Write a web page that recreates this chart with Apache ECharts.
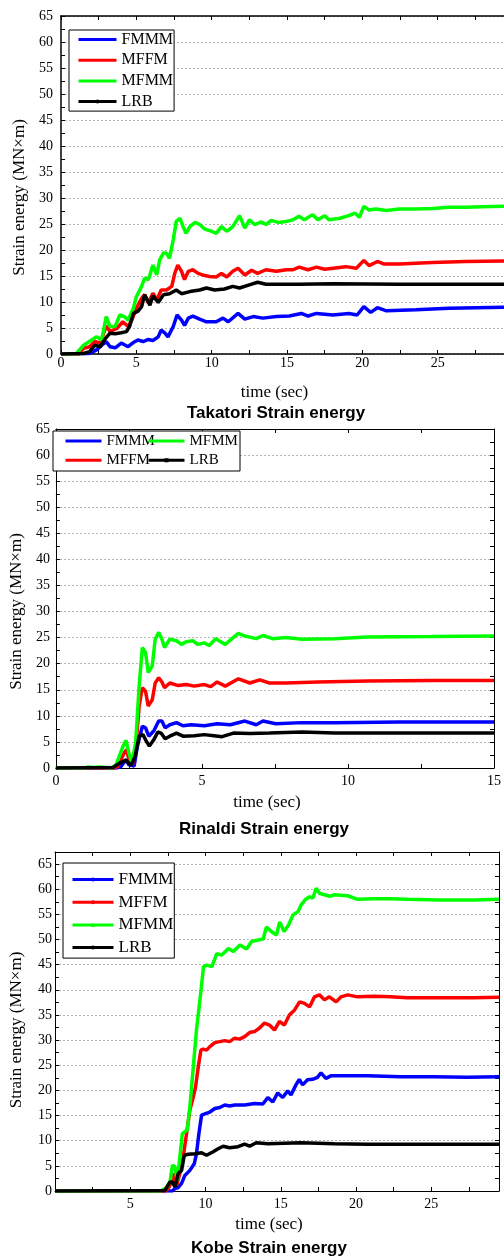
<!DOCTYPE html>
<html>
<head>
<meta charset="utf-8">
<script src="https://cdn.jsdelivr.net/npm/echarts@6/dist/echarts.min.js"></script>
<style>
  html, body { margin: 0; padding: 0; background: #fff; }
  #chart { width: 504px; height: 1257px; }
</style>
</head>
<body>
<div id="chart"></div>
<script>
// ---- data: [time (sec), strain energy (MN x m)] ----
var takatoriFMMM = [[0,0],[1.9,0.1],[2.36,0.8],[2.7,1.7],[3.0,2.4],[3.25,1.4],[3.6,1.2],[4.0,2.1],[4.45,1.4],[4.8,2.2],[5.1,2.7],[5.45,2.4],[5.8,2.8],[6.1,2.6],[6.45,3.3],[6.65,4.6],[6.9,4.0],[7.1,3.3],[7.45,5.3],[7.7,7.5],[8.0,6.5],[8.2,5.5],[8.45,6.9],[8.75,7.3],[9.2,6.7],[9.65,6.2],[10.3,6.2],[10.75,6.9],[11.1,6.2],[11.75,7.8],[12.2,6.7],[12.75,7.2],[13.4,6.9],[14.3,7.2],[15.15,7.3],[15.95,7.8],[16.4,7.3],[16.95,7.8],[18.05,7.5],[19.1,7.8],[19.65,7.5],[20.1,9.1],[20.55,8.0],[21.0,8.9],[21.6,8.3],[23.55,8.5],[25.75,8.8],[29.4,9.0]];
var takatoriMFFM = [[0,0],[1.2,0],[1.5,1.1],[1.9,1.4],[2.25,2.4],[2.6,2.1],[3.0,5.4],[3.25,4.3],[3.7,4.9],[4.1,6.2],[4.45,5.3],[4.7,6.5],[5.0,8.8],[5.35,10.7],[5.55,11.4],[5.8,9.8],[6.1,11.7],[6.35,10.4],[6.65,12.3],[7.0,12.3],[7.35,13.0],[7.55,15.5],[7.75,17.1],[8.0,15.9],[8.2,14.3],[8.45,15.9],[8.75,16.2],[9.1,15.5],[9.4,15.2],[9.85,14.9],[10.3,14.8],[10.65,15.5],[11.0,14.8],[11.4,15.9],[11.75,16.5],[12.2,15.2],[12.65,16.1],[13.05,15.5],[13.6,16.2],[14.3,15.9],[14.95,16.2],[15.4,16.2],[15.8,16.7],[16.4,16.2],[16.95,16.7],[17.5,16.3],[18.05,16.5],[18.9,16.8],[19.6,16.5],[20.1,18.0],[20.45,17.0],[21.0,17.8],[21.45,17.3],[22.45,17.3],[24.65,17.6],[26.85,17.8],[29.4,17.9]];
var takatoriMFMM = [[0,0],[1.0,0],[1.5,1.7],[2.36,3.3],[2.7,2.7],[3.0,7.2],[3.25,5.3],[3.6,5.3],[3.9,7.5],[4.2,7.2],[4.45,6.5],[4.8,8.8],[5.0,11.0],[5.35,13.0],[5.55,14.6],[5.8,14.3],[6.1,17.1],[6.35,15.2],[6.55,18.1],[6.8,19.4],[7.0,19.4],[7.2,18.4],[7.45,22.0],[7.65,25.5],[7.9,26.1],[8.1,24.5],[8.3,23.2],[8.55,24.5],[8.9,25.3],[9.2,24.9],[9.55,24.0],[10.0,23.6],[10.3,23.2],[10.65,24.5],[11.0,23.6],[11.4,24.5],[11.85,26.6],[12.2,24.2],[12.5,25.8],[12.85,24.9],[13.3,25.4],[13.6,24.9],[13.95,25.7],[14.4,25.3],[14.95,25.5],[15.4,25.8],[15.8,26.5],[16.15,25.8],[16.7,26.8],[17.05,25.8],[17.5,26.6],[17.8,25.8],[18.5,26.1],[19.1,26.6],[19.5,27.1],[19.8,26.3],[20.1,28.4],[20.45,27.7],[20.9,27.9],[21.6,27.6],[22.45,27.9],[23.55,27.9],[24.65,28.0],[25.75,28.2],[26.85,28.2],[27.95,28.3],[29.4,28.4]];
var takatoriLRB = [[0,0],[1.5,0.1],[1.9,0.45],[2.25,1.7],[2.6,1.4],[2.9,2.8],[3.25,4.0],[3.6,3.9],[4.0,4.1],[4.35,4.3],[4.55,5.3],[4.8,7.8],[5.1,8.2],[5.35,9.1],[5.55,11.4],[5.9,9.4],[6.1,11.2],[6.45,9.9],[6.8,11.4],[7.2,11.6],[7.65,12.3],[8.0,11.6],[8.55,12.0],[9.2,12.3],[9.65,12.7],[10.2,12.3],[10.85,12.5],[11.4,13.0],[11.85,12.7],[12.5,13.3],[13.05,13.8],[13.6,13.4],[15.8,13.4],[18.05,13.5],[22.45,13.4],[29.4,13.4]];

var rinaldiFMMM = [[0,0],[2.1,0],[2.23,0.3],[2.4,1.6],[2.5,0.6],[2.68,0.4],[2.79,4.2],[2.96,8.0],[3.07,7.7],[3.18,6.1],[3.35,7.1],[3.52,9.0],[3.63,9.0],[3.74,7.7],[3.9,8.3],[4.13,8.7],[4.35,8.1],[4.63,8.3],[5.08,8.1],[5.52,8.5],[5.97,8.3],[6.47,9.0],[6.86,8.3],[7.09,9.0],[7.53,8.5],[8.43,8.7],[9.54,8.7],[11.77,8.8],[15,8.8]];
var rinaldiMFFM = [[0,0],[2.0,0],[2.12,0.3],[2.34,2.9],[2.42,3.5],[2.5,1.6],[2.62,0.6],[2.76,5.4],[2.85,11.9],[2.96,15.4],[3.07,14.7],[3.16,11.9],[3.3,13.1],[3.4,16.3],[3.52,17.3],[3.63,16.5],[3.72,15.4],[3.9,16.3],[4.19,15.8],[4.46,16.0],[4.74,15.7],[5.08,16.0],[5.3,15.6],[5.52,16.5],[5.8,15.7],[6.25,17.1],[6.64,16.3],[6.98,16.9],[7.31,16.3],[7.87,16.3],[8.98,16.5],[10.66,16.7],[12.89,16.8],[15,16.8]];
var rinaldiMFMM = [[0,0],[1.0,0],[1.1,0.2],[1.3,0.1],[1.5,0.2],[1.9,0],[2.06,0.6],[2.3,4.2],[2.4,5.3],[2.5,2.9],[2.6,1.0],[2.73,4.8],[2.85,15.7],[2.96,23.1],[3.07,22.1],[3.16,18.3],[3.3,19.6],[3.4,24.7],[3.52,26.0],[3.63,24.7],[3.72,23.1],[3.9,24.7],[4.13,24.4],[4.3,23.7],[4.46,24.2],[4.69,24.4],[4.85,23.7],[5.08,24.0],[5.25,23.5],[5.47,24.8],[5.64,24.2],[5.8,23.7],[6.03,24.8],[6.25,25.8],[6.47,25.3],[6.86,24.8],[7.09,25.4],[7.42,24.8],[7.87,25.0],[8.43,24.7],[9.54,24.8],[10.66,25.1],[12.89,25.2],[15,25.3]];
var rinaldiLRB = [[0,0],[1.95,0.1],[2.23,1.1],[2.4,1.5],[2.57,0.5],[2.71,2.2],[2.85,6.1],[2.98,6.4],[3.07,5.4],[3.2,4.2],[3.35,5.4],[3.49,6.9],[3.6,6.7],[3.74,5.6],[3.9,6.1],[4.13,6.7],[4.35,6.1],[4.74,6.2],[5.08,6.4],[5.41,6.2],[5.69,6.0],[6.08,6.7],[6.64,6.6],[7.31,6.7],[8.43,6.9],[9.54,6.7],[11.77,6.7],[15,6.7]];

var kobeFMMM = [[0,0],[7.8,0],[7.97,0.5],[8.19,0.7],[8.41,1.5],[8.63,3.1],[8.96,4.1],[9.25,5.4],[9.4,7.4],[9.56,11.4],[9.74,15.1],[10.0,15.4],[10.29,15.7],[10.62,16.4],[10.95,16.6],[11.28,17.1],[11.6,16.9],[11.94,17.1],[12.6,17.1],[13.26,17.4],[13.81,17.3],[14.14,18.6],[14.47,17.7],[14.8,19.5],[15.13,18.6],[15.46,19.9],[15.68,19.1],[16.01,21.1],[16.23,22.2],[16.45,21.1],[16.78,22.1],[17.11,22.2],[17.44,22.6],[17.67,23.5],[18.0,22.4],[18.33,22.9],[18.99,22.9],[20.75,22.9],[22.95,22.7],[25.15,22.7],[27.36,22.6],[29.5,22.7]];
var kobeMFFM = [[0,0],[7.3,0],[7.53,0.5],[7.75,1.8],[7.86,3.5],[8.08,1.1],[8.3,3.5],[8.52,6.8],[8.74,11.4],[8.96,16.1],[9.19,18.7],[9.34,20.7],[9.52,24.7],[9.69,28.0],[9.85,28.2],[10.07,28.0],[10.29,28.7],[10.62,29.5],[10.95,29.7],[11.28,29.9],[11.6,29.7],[11.94,30.4],[12.27,30.2],[12.6,30.7],[12.93,31.5],[13.26,31.7],[13.59,32.4],[13.92,33.4],[14.25,33.0],[14.58,32.0],[14.91,33.7],[15.24,33.0],[15.57,35.0],[15.92,36.0],[16.25,37.6],[16.58,37.3],[16.91,36.6],[17.24,38.6],[17.57,39.0],[17.9,38.0],[18.23,38.6],[18.68,37.6],[19.0,38.6],[19.45,39.0],[20.1,38.6],[21.2,38.7],[22.3,38.6],[23.4,38.4],[25.6,38.4],[27.8,38.4],[29.5,38.5]];
var kobeMFMM = [[0,0],[7.0,0],[7.42,0.7],[7.64,1.8],[7.8,5.1],[7.97,4.8],[8.13,2.1],[8.3,6.8],[8.46,11.4],[8.63,11.8],[8.79,12.1],[8.96,16.7],[9.19,24.7],[9.4,32.0],[9.63,38.0],[9.87,44.6],[10.09,44.9],[10.42,44.6],[10.75,47.2],[11.08,46.9],[11.52,48.2],[11.85,47.6],[12.29,48.9],[12.73,48.1],[13.06,49.6],[13.5,49.9],[13.83,50.1],[14.05,52.5],[14.38,51.6],[14.71,50.9],[14.93,53.5],[15.22,51.6],[15.52,52.9],[15.81,54.9],[16.14,55.5],[16.36,56.9],[16.62,57.9],[16.91,58.5],[17.13,58.2],[17.35,60.2],[17.57,59.2],[17.9,58.9],[18.25,58.6],[18.6,58.9],[19.0,58.8],[19.45,58.7],[20.1,58.0],[21.2,58.1],[22.3,58.1],[23.4,58.0],[25.6,57.85],[27.8,57.85],[29.5,58.0]];
var kobeLRB = [[0,0],[7.3,0.1],[7.64,1.8],[7.8,1.8],[7.97,0.8],[8.19,3.5],[8.41,4.1],[8.59,7.1],[8.85,7.3],[9.3,7.4],[9.74,7.6],[10.07,7.1],[10.51,7.8],[10.84,8.4],[11.17,8.9],[11.6,8.6],[12.16,8.8],[12.6,9.3],[12.93,8.9],[13.37,9.6],[14.14,9.4],[16.34,9.6],[18.55,9.4],[20.75,9.3],[25.15,9.3],[29.5,9.3]];

var seriesNames = ['FMMM', 'MFFM', 'MFMM', 'LRB'];
var seriesColors = ['#0000ff', '#ff0000', '#00ff00', '#000000'];
var titles = ['Takatori Strain energy', 'Rinaldi Strain energy', 'Kobe Strain energy'];
var tags = ['Takatori', 'Rinaldi', 'Kobe'];
var xAxisName = 'time (sec)';
var yAxisName = 'Strain energy (MN\u00d7m)';

var serif = 'Liberation Serif';

// layout of the three stacked plots
var panels = [
  { grid: {left: 61, top: 16, width: 443, height: 338}, xMax: 29.4, yMax: 65, axisW: 1.5,
    xMargin: 2, yMargin: 8, xGap: 30.5, yGap: 27.5, yShift: 25, titleX: 276, titleY: 405,
    right: false, hideZero: false,
    data: [takatoriFMMM, takatoriMFFM, takatoriMFMM, takatoriLRB],
    symbols: ['none', 'none', 'none', 'circle'] },
  { grid: {left: 48, top: 429, width: 448, height: 339}, xMax: 15, yMax: 65, axisW: 1,
    xMargin: 6, yMargin: 6, xGap: 26.5, yGap: 29.5, yShift: 26, titleX: 264, titleY: 821,
    right: true, hideZero: false,
    data: [rinaldiFMMM, rinaldiMFFM, rinaldiMFMM, rinaldiLRB],
    symbols: ['none', 'none', 'none', 'rect'] },
  { grid: {left: 52, top: 852, width: 447, height: 339}, xMax: 29.5, yMax: 67.4, axisW: 1,
    xMargin: 6, yMargin: 3, xGap: 25.5, yGap: 30, yShift: 17, titleX: 269, titleY: 1240,
    right: true, hideZero: true,
    data: [kobeFMMM, kobeMFFM, kobeMFMM, kobeLRB],
    symbols: ['circle', 'circle', 'triangle', 'circle'] }
];

var tickStyle = {show: true, inside: true, length: 4, lineStyle: {color: '#000', width: 1}};
var minorStyle = {show: true, splitNumber: 2, length: 4, lineStyle: {color: '#000', width: 1}};

var grids = [], xAxes = [], yAxes = [], series = [], titleList = [];

panels.forEach(function (p, i) {
  grids.push(p.grid);
  var axisLine = {show: true, onZero: false, lineStyle: {color: '#000', width: p.axisW}};

  // bottom x axis
  xAxes.push({
    type: 'value', gridIndex: i, position: 'bottom', min: 0, max: p.xMax, interval: 5,
    axisLine: axisLine, axisTick: tickStyle, minorTick: minorStyle,
    splitLine: {show: false},
    axisLabel: {
      color: '#000', fontFamily: serif, fontSize: 14, margin: p.xMargin,
      showMaxLabel: p.xMax % 5 === 0,
      formatter: function (v) {
        if (v % 5 !== 0) return '';
        if (p.hideZero && v === 0) return '';
        return String(v);
      }
    },
    name: xAxisName, nameLocation: 'middle', nameGap: p.xGap,
    nameTextStyle: {color: '#000', fontFamily: serif, fontSize: 17, padding: [0, 16, 0, 0]}
  });
  // top frame
  xAxes.push({
    type: 'value', gridIndex: i, position: 'top', min: 0, max: p.xMax, interval: 5,
    axisLine: axisLine, axisTick: tickStyle, minorTick: minorStyle,
    splitLine: {show: false}, axisLabel: {show: false}
  });

  // left y axis
  yAxes.push({
    type: 'value', gridIndex: i, position: 'left', min: 0, max: p.yMax, interval: 5,
    axisLine: axisLine, axisTick: tickStyle, minorTick: minorStyle,
    splitLine: {show: true, lineStyle: {color: '#b4b4b4', type: [2, 2], width: 1}},
    axisLabel: {
      color: '#000', fontFamily: serif, fontSize: 14, margin: p.yMargin,
      showMaxLabel: p.yMax % 5 === 0,
      formatter: function (v) { return v % 5 === 0 ? String(v) : ''; }
    },
    name: yAxisName, nameLocation: 'middle', nameGap: p.yGap,
    nameTextStyle: {color: '#000', fontFamily: serif, fontSize: 17, padding: [0, p.yShift, 0, 0]}
  });
  if (p.right) {
    yAxes.push({
      type: 'value', gridIndex: i, position: 'right', min: 0, max: p.yMax, interval: 5,
      axisLine: axisLine, axisTick: tickStyle, minorTick: minorStyle,
      splitLine: {show: false}, axisLabel: {show: false}
    });
  }
  var yIndex = yAxes.length - (p.right ? 2 : 1);

  seriesNames.forEach(function (name, k) {
    series.push({
      name: name + ' ' + tags[i],
      type: 'line',
      xAxisIndex: i * 2,
      yAxisIndex: yIndex,
      data: p.data[k],
      symbol: p.symbols[k],
      showSymbol: false,
      symbolSize: 4,
      itemStyle: {color: seriesColors[k]},
      lineStyle: {color: seriesColors[k], width: 3.5},
      emphasis: {disabled: true},
      animation: false
    });
  });

  titleList.push({
    text: titles[i], left: p.titleX, top: p.titleY, textAlign: 'center', padding: 0,
    textStyle: {fontFamily: 'Liberation Sans', fontWeight: 'bold', fontSize: 17, color: '#000'}
  });
});

// legend entries; plain-line entries hide the centre marker
function legendItems(i, ks) {
  return ks.map(function (k) {
    var item = {name: seriesNames[k] + ' ' + tags[i]};
    if (panels[i].symbols[k] === 'none') item.itemStyle = {opacity: 0};
    return item;
  });
}
function shortName(name) { return name.split(' ')[0]; }

var legendLine = {width: 3};
var legends = [
  { data: legendItems(0, [0, 1, 2, 3]), orient: 'vertical', left: 69, top: 30,
    padding: [1.5, 1, 1.5, 8], itemWidth: 38, itemHeight: 5, itemGap: 4.7, lineStyle: legendLine,
    borderColor: '#000', borderWidth: 1, backgroundColor: '#fff', borderRadius: 0,
    textStyle: {fontFamily: serif, fontSize: 16, color: '#000'}, formatter: shortName, z: 10 },
  { data: legendItems(1, [0, 1]), orient: 'vertical', left: 64, top: 433.5,
    padding: 0, itemWidth: 36, itemHeight: 5, itemGap: 4.3, lineStyle: legendLine,
    textStyle: {fontFamily: serif, fontSize: 15, color: '#000'}, formatter: shortName, z: 10 },
  { data: legendItems(1, [2, 3]), orient: 'vertical', left: 147, top: 433.5,
    padding: 0, itemWidth: 36, itemHeight: 5, itemGap: 4.3, lineStyle: legendLine,
    textStyle: {fontFamily: serif, fontSize: 15, color: '#000'}, formatter: shortName, z: 10 },
  { data: legendItems(2, [0, 1, 2, 3]), orient: 'vertical', left: 63, top: 863,
    padding: [8, 1, 2, 8], itemWidth: 41, itemHeight: 5, itemGap: 5.7, lineStyle: legendLine,
    borderColor: '#000', borderWidth: 1, backgroundColor: '#fff', borderRadius: 0,
    textStyle: {fontFamily: serif, fontSize: 17, color: '#000'}, formatter: shortName, z: 10 }
];

var myChart = echarts.init(document.getElementById('chart'), null, {renderer: 'canvas'});
myChart.setOption({
  backgroundColor: '#fff',
  animation: false,
  title: titleList,
  legend: legends,
  grid: grids,
  xAxis: xAxes,
  yAxis: yAxes,
  series: series,
  graphic: [{
    // frame of the two-column legend in the middle plot
    type: 'rect', z: 8, silent: true,
    shape: {x: 53, y: 431, width: 187, height: 40},
    style: {fill: '#fff', stroke: '#000', lineWidth: 1}
  }]
});
</script>
</body>
</html>
